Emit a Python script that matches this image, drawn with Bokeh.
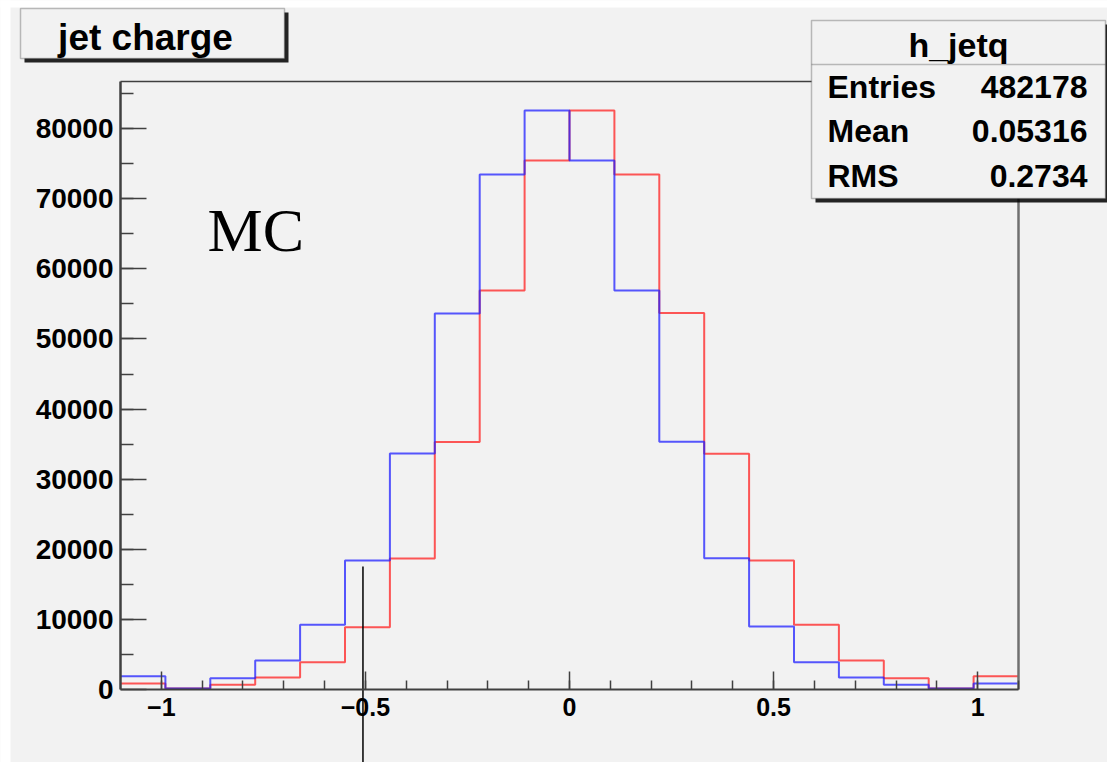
import numpy as np
from bokeh.plotting import figure
from bokeh.models import Range1d, FixedTicker, BoxAnnotation, Label, BasicTickFormatter
from bokeh.embed import file_html
from bokeh.resources import INLINE

# ---------------- data ----------------
bin_low = -1.1
bin_high = 1.1
n_bins = 20
blue_counts = [1900, 150, 1600, 4140, 9230, 18400, 33670, 53640, 73450, 82600,
               75460, 56920, 35330, 18730, 8990, 3900, 1710, 670, 150, 850]
red_counts = [850, 150, 670, 1710, 3900, 8890, 18700, 35300, 56920, 75460,
              82600, 73450, 53700, 33640, 18400, 9230, 4140, 1600, 150, 1900]
x_tick_values = [-1, -0.5, 0, 0.5, 1]
y_tick_values = [0, 10000, 20000, 30000, 40000, 50000, 60000, 70000, 80000]
hist_title = "jet charge"
stats_name = "h_jetq"
stats_labels = ["Entries", "Mean", "RMS"]
stats_values = ["482178", "0.05316", "0.2734"]
sample_label = "MC"
cut_x = -0.506

Y_MAX = 86730

# ---------------- layout constants ----------------
W, H = 1107, 762
FL, FR, FT, FB = 120, 1018, 81, 689   # histogram frame edges in pixels
BG = "#f2f2f2"

sx = (bin_high - bin_low) / (FR - FL)      # data units per pixel
sy = Y_MAX / (FB - FT)
x_start = bin_low - FL * sx
x_end = bin_high + (W - FR) * sx
y_start = -(H - FB) * sy
y_end = Y_MAX + FT * sy

def dx(px):
    return x_start + px * sx

def dy(py):
    return y_end - py * sy

p = figure(width=W, height=H, x_range=Range1d(x_start, x_end), y_range=Range1d(y_start, y_end),
           output_backend="svg", toolbar_location=None,
           min_border=0, min_border_left=0, min_border_right=0, min_border_top=0, min_border_bottom=0,
           background_fill_color=BG, border_fill_color=BG)
p.grid.visible = False
p.outline_line_color = None

# white page strips (left / top)
p.add_layout(BoxAnnotation(left=dx(-5), right=dx(10), top=dy(-5), bottom=dy(H + 5),
                           fill_color="white", fill_alpha=1, line_alpha=0, level="underlay"))
p.add_layout(BoxAnnotation(left=dx(-5), right=dx(W + 5), top=dy(-5), bottom=dy(7),
                           fill_color="white", fill_alpha=1, line_alpha=0, level="underlay"))

edges = np.linspace(bin_low, bin_high, n_bins + 1)
p.step(edges, np.append(red_counts, red_counts[-1]), mode="after",
       line_color="#ff2020", line_alpha=0.75, line_width=2)
p.step(edges, np.append(blue_counts, blue_counts[-1]), mode="after",
       line_color="#2020ff", line_alpha=0.75, line_width=2)

# frame: top and right edges
p.line([bin_low, bin_high], [Y_MAX, Y_MAX], line_color="#404040", line_width=1.5)
p.line([bin_high, bin_high], [0, Y_MAX], line_color="#707070", line_width=2.5)

# axes (placed at the histogram frame)
xa = p.xaxis[0]
xa.fixed_location = 0
xa.bounds = (bin_low, bin_high)
xa.ticker = FixedTicker(ticks=x_tick_values, minor_ticks=list(np.round(np.arange(-1.0, 1.101, 0.1), 3)))
xa.major_tick_in = 18
xa.major_tick_out = 0
xa.minor_tick_in = 9
xa.minor_tick_out = 0
xa.axis_line_width = 2
xa.axis_line_color = "#404040"
xa.major_tick_line_color = "#404040"
xa.major_tick_line_width = 1.5
xa.minor_tick_line_color = "#404040"
xa.minor_tick_line_width = 1.5
xa.major_label_text_font = "Liberation Sans"
xa.major_label_text_font_style = "bold"
xa.major_label_text_font_size = "25px"
xa.major_label_text_color = "black"
xa.major_label_standoff = 8

ya = p.yaxis[0]
ya.fixed_location = bin_low
ya.bounds = (0, Y_MAX)
ya.ticker = FixedTicker(ticks=y_tick_values, minor_ticks=list(np.arange(5000, 86000, 5000)))
ya.formatter = BasicTickFormatter(use_scientific=False)
ya.major_tick_in = 26
ya.major_tick_out = 0
ya.minor_tick_in = 13
ya.minor_tick_out = 0
ya.axis_line_width = 2.5
ya.axis_line_color = "#404040"
ya.major_tick_line_color = "#404040"
ya.major_tick_line_width = 1.5
ya.minor_tick_line_color = "#404040"
ya.minor_tick_line_width = 1.5
ya.major_label_text_font = "Liberation Sans"
ya.major_label_text_font_style = "bold"
ya.major_label_text_font_size = "28px"
ya.major_label_text_color = "black"
ya.major_label_standoff = 7

# cut line
p.segment(x0=[cut_x], y0=[dy(566)], x1=[cut_x], y1=[dy(H + 10)], line_color="black", line_width=1.5)

def text_label(px, py_center, txt, size, align="left", font="Liberation Sans", style="bold"):
    return Label(x=dx(px), y=dy(py_center), text=txt, text_align=align, text_baseline="alphabetic",
                 text_font=font, text_font_style=style, text_font_size=size, text_color="black")

# title box with shadow
p.add_layout(BoxAnnotation(left=dx(24), right=dx(288), top=dy(12), bottom=dy(62),
                           fill_color="black", fill_alpha=0.85, line_alpha=0))
p.add_layout(BoxAnnotation(left=dx(20), right=dx(284), top=dy(8), bottom=dy(58),
                           fill_color=BG, fill_alpha=1, line_color="#303030", line_width=1.5))
p.add_layout(text_label(145, 36.5, hist_title, "37px", align="center"))

# stats box with shadow
p.add_layout(BoxAnnotation(left=dx(815), right=dx(1112), top=dy(24), bottom=dy(202),
                           fill_color="black", fill_alpha=0.85, line_alpha=0))
p.add_layout(BoxAnnotation(left=dx(811), right=dx(1105), top=dy(20), bottom=dy(198),
                           fill_color=BG, fill_alpha=1, line_color="#303030", line_width=1.5))
p.add_layout(BoxAnnotation(left=dx(811), right=dx(1105), top=dy(64), bottom=dy(64),
                           fill_alpha=0, line_color="#303030", line_width=1.5))
p.add_layout(text_label(958, 44, stats_name, "34px", align="center"))
for i, (lab, val) in enumerate(zip(stats_labels, stats_values)):
    yc = 86 + i * 44.8
    p.add_layout(text_label(827, yc, lab, "32px", align="left"))
    p.add_layout(text_label(1087, yc, val, "32px", align="right"))

# MC label
p.add_layout(text_label(207, 229, sample_label, "62px", font="Liberation Serif", style="normal"))

open("out.html", "w").write(file_html(p, INLINE))
